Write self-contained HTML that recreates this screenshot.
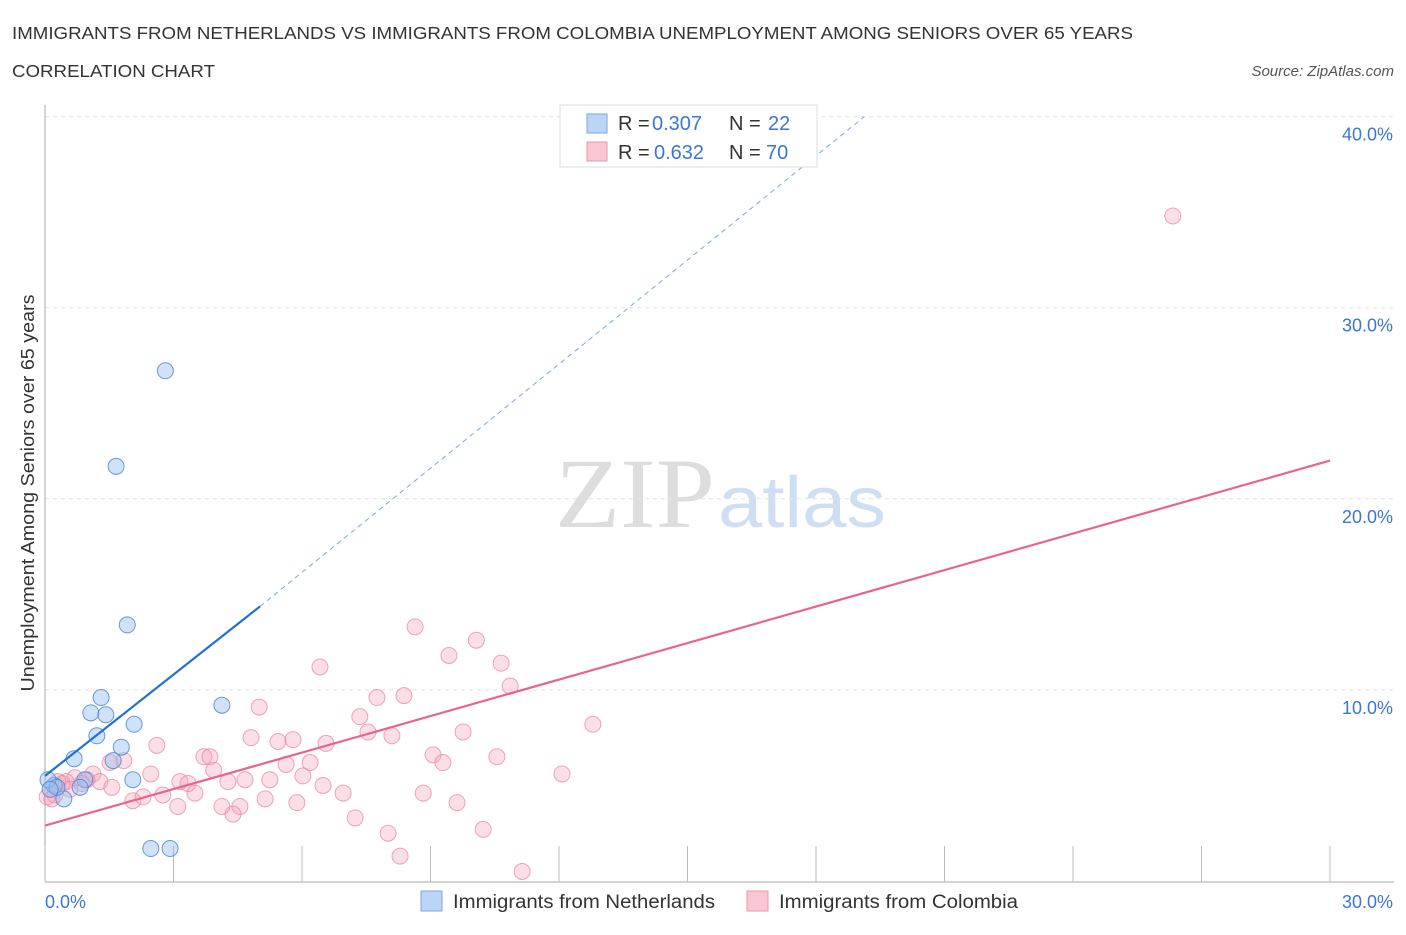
<!DOCTYPE html>
<html><head><meta charset="utf-8"><style>
body{margin:0;background:#fff;font-family:"Liberation Sans",sans-serif;}
</style></head><body>
<svg width="1406" height="930" xmlns="http://www.w3.org/2000/svg">
<text x="12" y="39" font-size="17.5" textLength="1121" lengthAdjust="spacingAndGlyphs" fill="#333">IMMIGRANTS FROM NETHERLANDS VS IMMIGRANTS FROM COLOMBIA UNEMPLOYMENT AMONG SENIORS OVER 65 YEARS</text>
<text x="12" y="77" font-size="17.5" textLength="203" lengthAdjust="spacingAndGlyphs" fill="#333">CORRELATION CHART</text>
<text x="1394" y="76" font-size="15" fill="#555" font-style="italic" text-anchor="end">Source: ZipAtlas.com</text>
<text x="555" y="527" font-size="100" textLength="160" lengthAdjust="spacingAndGlyphs" fill="#ddd" font-family="Liberation Serif">ZIP</text>
<text x="718" y="527" font-size="72" textLength="168" lengthAdjust="spacingAndGlyphs" fill="#cfdff3">atlas</text>
<g id="grid"></g>
<g id="axes"></g>
<g id="marks"></g>
<text transform="translate(34,493) rotate(-90)" font-size="18" textLength="397" lengthAdjust="spacingAndGlyphs" fill="#333" text-anchor="middle">Unemployment Among Seniors over 65 years</text>
<g>
<rect x="560" y="105" width="257" height="62" fill="#fff" stroke="#ddd"/>
<rect x="587" y="114" width="20" height="19" fill="#bcd5f5" stroke="#7aa7e0"/>
<rect x="587" y="142" width="20" height="19" fill="#f9c6d4" stroke="#e896ae"/>
<text x="618" y="130" font-size="20" fill="#333">R =</text>
<text x="652" y="130" font-size="20" fill="#3a77d4">0.307</text>
<text x="729" y="130" font-size="20" fill="#333">N =</text>
<text x="768" y="130" font-size="20" fill="#3a77d4">22</text>
<text x="618" y="159" font-size="20" fill="#333">R =</text>
<text x="654" y="159" font-size="20" fill="#3a77d4">0.632</text>
<text x="729" y="159" font-size="20" fill="#333">N =</text>
<text x="766" y="159" font-size="20" fill="#3a77d4">70</text>
</g>
<g>
<rect x="421" y="891" width="21" height="20" fill="#bcd5f5" stroke="#7aa7e0"/>
<text x="453" y="908" font-size="19" textLength="262" lengthAdjust="spacingAndGlyphs" fill="#333">Immigrants from Netherlands</text>
<rect x="747" y="891" width="21" height="20" fill="#f9c6d4" stroke="#e896ae"/>
<text x="779" y="908" font-size="19" textLength="239" lengthAdjust="spacingAndGlyphs" fill="#333">Immigrants from Colombia</text>
</g>
</svg>
<script>
const yTicks=[10,20,30,40];
const yTickLabels=["10.0%","20.0%","30.0%","40.0%"];
const xTickVals=[0,3,6,9,12,15,18,21,24,27,30];
const blueX=[2.81,1.66,1.92,1.31,1.07,1.42,1.21,2.08,4.13,1.78,0.68,1.59,2.05,0.93,0.44,0.21,0.07,0.82,2.47,2.92,0.28,0.12];
const blueY=[26.7,21.7,13.4,9.6,8.8,8.7,7.6,8.2,9.2,7.0,6.4,6.3,5.3,5.3,4.3,5.0,5.3,4.9,1.7,1.7,4.9,4.8];
const pinkX=[26.33,8.64,10.07,9.43,10.65,6.42,7.75,8.38,10.86,12.79,5.0,7.35,7.54,8.1,4.81,6.56,5.44,5.79,9.76,2.61,9.06,9.29,10.55,3.71,3.85,6.19,5.63,3.94,6.02,12.07,2.47,3.15,4.67,5.25,3.34,4.27,1.52,1.84,1.12,1.28,0.7,0.4,0.49,0.98,1.56,2.75,3.5,6.49,6.96,5.14,2.05,2.29,3.1,4.13,4.55,5.88,4.39,8.83,9.62,7.24,8.01,10.23,8.29,11.14,0.23,0.05,0.3,0.58,0.16,0.86];
const pinkY=[34.8,13.3,12.6,11.8,11.4,11.2,9.6,9.7,10.2,8.2,9.1,8.6,7.8,7.6,7.5,7.2,7.3,7.4,7.8,7.1,6.6,6.2,6.5,6.5,6.5,6.2,6.1,5.8,5.5,5.6,5.6,5.2,5.3,5.3,5.1,5.2,6.2,6.3,5.6,5.2,5.4,5.1,5.2,5.3,4.9,4.5,4.6,5.0,4.6,4.3,4.2,4.4,3.9,3.9,3.9,4.1,3.5,4.6,4.1,3.3,2.5,2.7,1.3,0.5,4.5,4.4,5.2,4.8,4.3,5.1];
const blueTrend=[0,5.5,5.02,14.37];
const blueDash=[5.02,14.37,19.13,40.0];
const pinkTrend=[0,2.9,30,22.0];
const X=v=>45+v/30*1285, Y=v=>881-v/10*191.1;
const NS="http://www.w3.org/2000/svg";
function mk(p,t,a){const e=document.createElementNS(NS,t);for(const k in a)e.setAttribute(k,a[k]);p.appendChild(e);return e;}
const grid=document.getElementById('grid'),axes=document.getElementById('axes'),marks=document.getElementById('marks');
yTicks.forEach((v,i)=>{
 const l=mk(grid,'line',{x1:45,x2:1394,y1:Y(v),y2:Y(v),stroke:'#e2e2e2','stroke-dasharray':'4,4'});
 
 
 const t=mk(grid,'text',{x:1393,y:Y(v)+24,'font-size':18,fill:'#3a77d4','text-anchor':'end'});
 t.textContent=yTickLabels[i];
 
 
});
const ax=mk(axes,'line',{x1:45,x2:45,y1:105,y2:882,stroke:'#aaa'});


const bx=mk(axes,'line',{x1:45,x2:1394,y1:882,y2:882,stroke:'#aaa'});


xTickVals.forEach(v=>{const t=mk(axes,'line',{x1:X(v),x2:X(v),y1:846,y2:882,stroke:'#bbb'});
 
 });
[[0,"0.0%",45,'start'],[30,"30.0%",1393,'end']].forEach(d=>{const t=mk(axes,'text',{x:d[2],y:908,'font-size':18,fill:'#3a77d4','text-anchor':d[3]});t.textContent=d[1];
 
 });
pinkX.forEach((v,i)=>{const c=mk(marks,'circle',{cx:X(v),cy:Y(pinkY[i]),r:8,fill:'rgba(245,160,185,0.35)',stroke:'rgba(230,130,160,0.7)'});
 
 });
blueX.forEach((v,i)=>{const c=mk(marks,'circle',{cx:X(v),cy:Y(blueY[i]),r:8,fill:'rgba(150,190,240,0.45)',stroke:'rgba(70,130,210,0.8)'});
 
 });
const l1=mk(marks,'line',{x1:X(blueTrend[0]),y1:Y(blueTrend[1]),x2:X(blueTrend[2]),y2:Y(blueTrend[3]),stroke:'#1f6fd6','stroke-width':2.2});


const l2=mk(marks,'line',{x1:X(blueDash[0]),y1:Y(blueDash[1]),x2:X(blueDash[2]),y2:Y(blueDash[3]),stroke:'#7aa7e0','stroke-width':1,'stroke-dasharray':'5,4'});


const l3=mk(marks,'line',{x1:X(pinkTrend[0]),y1:Y(pinkTrend[1]),x2:X(pinkTrend[2]),y2:Y(pinkTrend[3]),stroke:'#e8648e','stroke-width':2.2});


</script>
</body></html>
